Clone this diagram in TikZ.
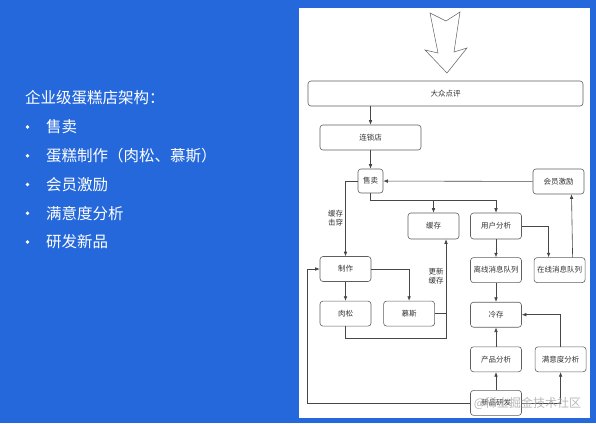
\documentclass[tikz,border=0pt]{standalone}
\usepackage{fontspec}
\newfontfamily\cjk{Noto Sans CJK SC}
\usepackage{tikz}
\usetikzlibrary{
    arrows.meta,
    positioning
}
\definecolor{slideBlue}{RGB}{37,104,219}
\definecolor{lineGray}{RGB}{70,70,70}
\definecolor{boxGray}{RGB}{95,95,95}
\tikzset{
  box/.style     = {draw=boxGray, line width=0.6pt, rounded corners=3pt,
                    fill=white, minimum width=51pt, minimum height=25pt,
                    inner sep=1pt, align=center, text=black!80,
                    font=\cjk\fontsize{7.5}{9}\selectfont},
  note/.style    = {align=center, text=black!80, inner sep=2pt,
                    font=\cjk\fontsize{7.5}{9}\selectfont},
  slide/.style   = {white, anchor=west, inner sep=0pt,
                    font=\cjk\fontsize{15.5}{18}\selectfont},
  dot/.style     = {circle, fill=white, inner sep=0pt, minimum size=3.6pt},
  arr/.style     = {-{Latex[length=4.5pt,width=3.6pt]}, lineGray, line width=0.6pt},
  link/.style    = {lineGray, line width=0.6pt}
}

\begin{document}
\begin{tikzpicture}[x=1pt, y=-1pt]
  \fill[slideBlue] (0,0) rectangle (596,423);
  \useasboundingbox (0,0) rectangle (596,423);
  \fill[white] (298.5,8) rectangle (590,418);

  % left side text
  \node[slide] (title) at (25,98) {企业级蛋糕店架构：};
  \foreach \t [count=\i] in {售卖, 蛋糕制作（肉松、慕斯）, 会员激励, 满意度分析, 研发新品} {
    \node[dot] (dot\i) at (27.5,127+28.75*\i-28.75) {};
    \node[slide] (item\i) at (46,127+28.75*\i-28.75) {\t};
  }

  % big hollow arrow
  \draw[boxGray, line width=0.5pt, fill=white] (430,13) -- (446,21) -- (460,12)
       -- (454,52) -- (467,48) -- (447,73) -- (425,50) -- (438,53) -- cycle;

  \node[box, minimum width=275pt] (review) at (445.5,93.5) {大众点评};
  \node[box, minimum width=101pt] (chain) at (370.5,137.5) {连锁店};
  \node[box, minimum width=25pt, minimum height=24pt] (sell) at (370.5,181) {售卖};
  \node[box] (member) at (558.5,181.5) {会员激励};
  \node[box, minimum height=26pt] (cache) at (433.5,226) {缓存};
  \node[box, minimum height=26pt] (user) at (496,226) {用户分析};
  \node[box] (make) at (345.5,269) {制作};
  \node[box, below=19pt of make] (floss) {肉松};
  \node[box, right=12pt of floss] (mousse) {慕斯};
  \node[box, below=18pt of user] (offline) {离线消息队列};
  \node[box, right=12pt of offline] (online) {在线消息队列};
  \node[box, below=19pt of offline] (cold) {冷存};
  \node[box, below=19pt of cold] (prod) {产品分析};
  \node[box, right=13pt of prod] (satis) {满意度分析};
  \node[box, below=18pt of prod] (newp) {新品研发};
  \coordinate (join) at (446,338);

  \draw[arr] (review.south -| chain) -- (chain);
  \draw[arr] (chain) -- (sell);
  \draw[arr] (member) -- (sell);
  \draw[arr] (sell.west) -| node[note, pos=0.75, left] (miss) {缓存\\击穿} (make.north);
  \draw[arr] (sell.south) |- ([yshift=12pt]cache.north) -- (cache.north);
  \draw[arr] (sell.south) |- ([yshift=12pt]user.north) -- (user.north);
  \draw[arr] (user.east) -| ([xshift=-11pt]online.north);
  \draw[arr] (user) -- (offline);
  \draw[arr] ([xshift=13pt]online.north) -- ([xshift=13pt]member.south);
  \draw[arr] (make) -- (floss);
  \draw[arr] (make.east) -| (mousse.north);
  \draw[arr] (mousse.east) -| node[note, pos=0.75, left] (refresh) {更新\\缓存}
       ([xshift=12.5pt]cache.south);
  \draw[link] (floss.south) |- (join) -- (join |- mousse.east);
  \draw[arr] (offline) -- (cold);
  \draw[arr] (prod) -- (cold);
  \draw[arr] (satis.north) |- (cold.east);
  \draw[arr] (newp) -- (prod);
  \draw[arr] (newp.east) -| (satis.south);
  \draw[arr] (newp.west) -| ([xshift=-12pt]make.west) -- (make.west);

  \node[gray!70, opacity=0.8, inner sep=0pt,
        font=\cjk\fontsize{12}{14}\selectfont] (mark) at (527.5,403) {@稀土掘金技术社区};
\end{tikzpicture}
\end{document}
